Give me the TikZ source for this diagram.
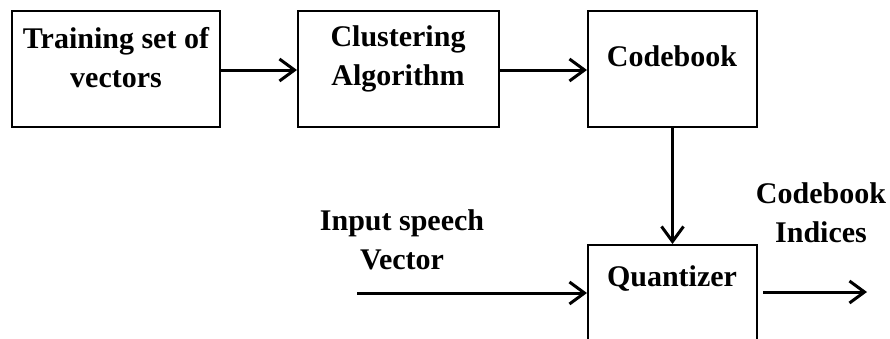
\documentclass[tikz,border=0pt]{standalone}
\usepackage{fontspec}
\setmainfont{Liberation Serif}
\usetikzlibrary{arrows.meta}
\begin{document}
\begin{tikzpicture}[x=1pt,y=-1pt,
  blk/.style={draw, line width=2pt, minimum width=#1, minimum height=116pt, inner sep=0pt},
  lbl/.style={font=\fontsize{30}{39}\selectfont\bfseries, align=center, inner sep=0pt},
  conn/.style={line width=3pt, -{Straight Barb[length=15pt,width=22pt,line width=3pt]}}]
\useasboundingbox (0,0) rectangle (890,338);
\clip (0,0) rectangle (890,338);
\node[blk=208pt] (b1) at (116,69) {};
\node[blk=201pt] (b2) at (398.5,69) {};
\node[blk=169pt] (b3) at (672.5,69) {};
\node[blk=169pt, minimum height=130pt] (b4) at (672.5,310) {};
\node[lbl] (t1) at (116,58) {Training set of\\vectors};
\node[lbl] (t2) at (398,59) {Clustering\\Algorithm};
\node[lbl] (t3) at (672,56) {Codebook};
\node[lbl] (t4) at (672,279) {Quantizer};
\node[lbl] (t5) at (402,240) {Input speech\\Vector};
\node[lbl] (t6) at (821,213) {Codebook\\Indices};
\coordinate (in) at (357,293);
\coordinate (o1) at (763,292);
\coordinate (o2) at (867,292);
\draw[conn] (b1.east |- 0,70) -- (b2.west |- 0,70);
\draw[conn] (b2.east |- 0,70) -- (b3.west |- 0,70);
\draw[conn] (b3.south) -- (b4.north);
\draw[conn] (in) -- (in -| b4.west);
\draw[conn] (o1) -- (o2);
\end{tikzpicture}
\end{document}
